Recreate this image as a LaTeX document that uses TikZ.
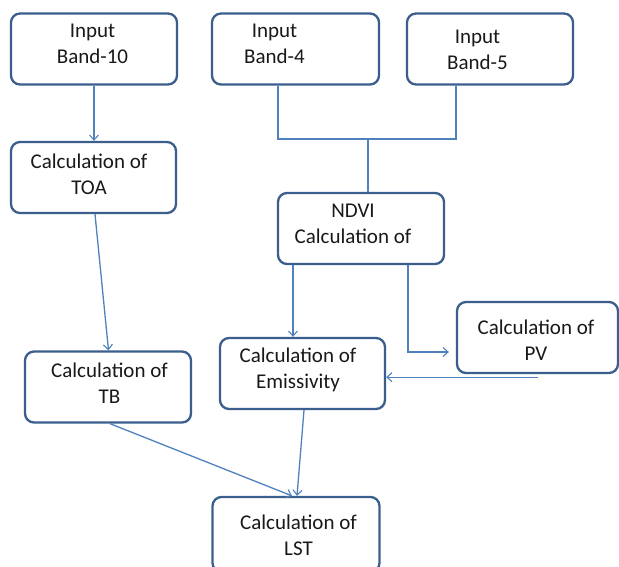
\documentclass[tikz,border=0pt]{standalone}
\usepackage{fontspec}
\setmainfont{Carlito}
\usetikzlibrary{arrows.meta}
\definecolor{boxc}{HTML}{3B5E8C}
\definecolor{linec}{HTML}{4F81BD}
\begin{document}
\begin{tikzpicture}[x=1pt,y=-1pt,
  box/.style={draw=boxc, line width=2.3pt, rounded corners=9pt, minimum width=#1, minimum height=71pt, inner sep=0pt, fill=white},
  lbl/.style={align=center, font=\fontsize{21}{26}\selectfont, text=black!90, inner sep=0pt},
  conn/.style={draw=linec, line width=1.3pt},
  arr/.style={conn, -{Straight Barb[length=5pt, width=9pt, line width=1.1pt]}}]
\useasboundingbox (0,0) rectangle (619,566);
% boxes
\node[box=166pt] (b10) at (94,49) {};
\node[box=167pt] (b4) at (295.5,49) {};
\node[box=166pt] (b5) at (490,49) {};
\node[box=165pt] (toa) at (93.5,177.5) {};
\node[box=166pt] (ndvi) at (361,228.5) {};
\node[box=166pt] (tb) at (108,387) {};
\node[box=165pt] (emis) at (302.5,373.5) {};
\node[box=161pt] (pv) at (537.5,337.5) {};
\node[box=167pt, minimum height=75pt] (lst) at (296,534.5) {};
% labels
\node[lbl] (b10t) at (92.5,44) {Input\\Band-10};
\node[lbl] (b4t) at (274.5,44) {Input\\Band-4};
\node[lbl] (b5t) at (477.5,50) {Input\\Band-5};
\node[lbl] (toat) at (89,174) {Calculation of\\TOA};
\node[lbl] (ndvit) at (353,223.5) {NDVI\\Calculation of};
\node[lbl] (tbt) at (109.5,383.5) {Calculation of\\TB};
\node[lbl] (emist) at (298,369.5) {Calculation of\\Emissivity};
\node[lbl] (pvt) at (536,340) {Calculation of\\PV};
\node[lbl] (lstt) at (298.5,535) {Calculation of\\LST};
% connectors
\coordinate (m) at (368,139);
\draw[arr] (b10.south) -- (b10.south |- toa.north);
\draw[conn] ([xshift=-17.5pt]b4.south) |- (m);
\draw[conn] ([xshift=-34pt]b5.south) |- (m);
\draw[conn] (m) -- (m |- ndvi.north);
\draw[arr] ([xshift=1.5pt]toa.south) -- ([xshift=0.5pt]tb.north);
\draw[arr] ([xshift=-68pt]ndvi.south) -- ([xshift=-68pt]ndvi.south |- emis.north);
\draw[arr] ([xshift=47pt]ndvi.south) |- ([xshift=-7pt,yshift=-14.5pt]pv.west);
\draw[arr] ([yshift=-3pt]pv.south) -- ([yshift=-3pt]pv.south -| emis.east);
\draw[arr] ([xshift=2pt]tb.south) -- ([xshift=-4pt]lst.north);
\draw[arr] ([xshift=1.5pt]emis.south) -- ([xshift=1pt]lst.north);
\end{tikzpicture}
\end{document}
